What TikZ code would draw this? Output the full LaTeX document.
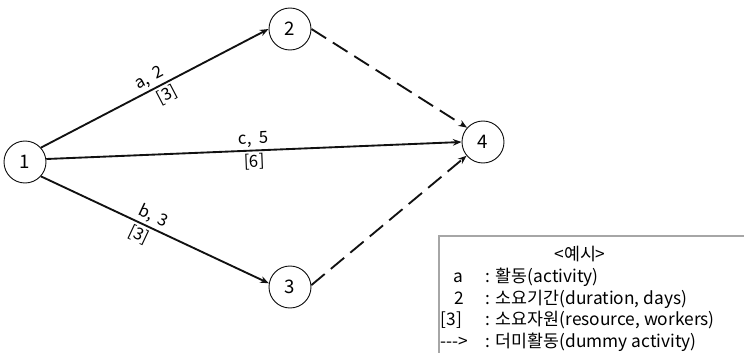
\documentclass[tikz,border=0pt]{standalone}
\usepackage{fontspec}
\setmainfont{Noto Sans CJK KR}
\usetikzlibrary{arrows.meta}
\definecolor{cline}{HTML}{111111}
\definecolor{cframe}{HTML}{A6A6A6}
\tikzset{
  every picture/.style={line width=1.4pt},
  event/.style={circle, draw=cline, line width=0.7pt, minimum size=31.5pt, inner sep=0pt, font=\fontsize{14}{16}\selectfont},
  act/.style={-{Stealth[length=6.5pt, width=5pt]}, draw=cline},
  dummy/.style={act, dash pattern=on 13pt off 6pt},
  lbl/.style={sloped, inner sep=1.8pt, font=\fontsize{12.5}{14}\selectfont},
  legendbox/.style={draw=cframe, line width=1pt},
  legend/.style={font=\fontsize{13}{15}\selectfont, inner sep=0pt, anchor=base west},
}

\begin{document}
\begin{tikzpicture}[x=0.75pt, y=-0.75pt]
  \useasboundingbox (0,0) rectangle (744,353);
  % events
  \node[event] (n1) at (25,162) {1};
  \node[event] (n2) at (290,29) {2};
  \node[event] (n3) at (290,287) {3};
  \node[event] (n4) at (483,142) {4};
  % activities
  \draw[act] (n1.42) -- node[lbl, above, pos=0.5] {a,\,\ 2} node[lbl, below, pos=0.53] {[3]} (n2.west);
  \draw[act] (n1.8) -- node[lbl, above] {c,\ \ 5} node[lbl, below] {[6]} (n4.west);
  \draw[act] (n1.-42) -- node[lbl, above, pos=0.47] {b,\,\ 3} node[lbl, below, pos=0.45] {[3]} (n3.170);
  \draw[dummy] (n2.east) -- (n4.138);
  \draw[dummy] (n3.5) -- (n4.220);
  % legend
  \draw[legendbox] (439,236) rectangle (760,370);
  \node[legend, anchor=base] (ltitle) at (580,261) {<예시>};
  \foreach \s/\x/\t [count=\i] in {a/453/{활동(activity)}, 2/454/{소요기간(duration, days)}, [3]/440/{소요자원(resource, workers)}, -{}-{}->/440/{더미활동(dummy activity)}} {
    \node[legend] (sym\i) at (\x, 261+21.6*\i) {\s};
    \node[legend] (txt\i) at (485, 261+21.6*\i) {: \t};
  }
\end{tikzpicture}
\end{document}
